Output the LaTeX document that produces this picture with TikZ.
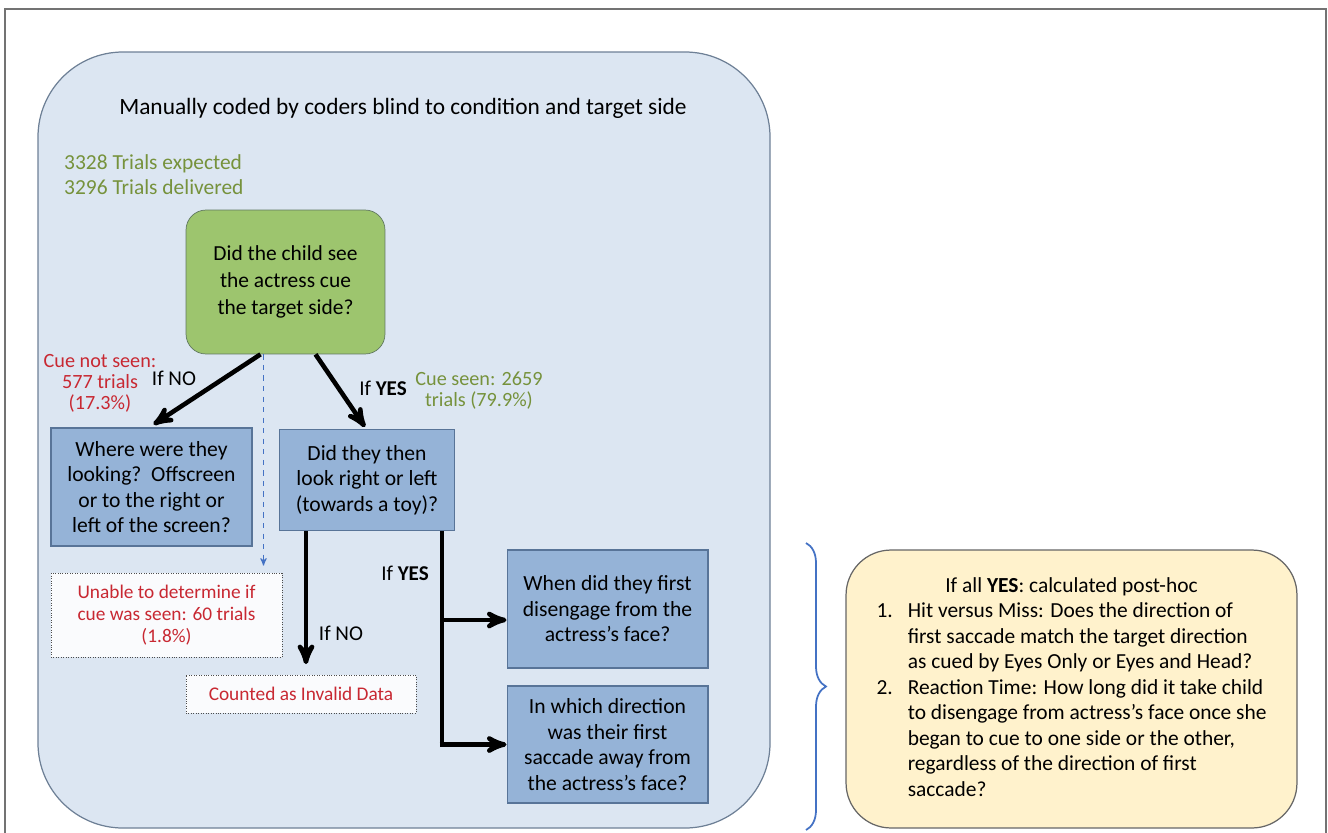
\documentclass[tikz,border=0pt]{standalone}
\usepackage{fontspec}
\setmainfont{Carlito}
\usepackage{xcolor}
\usetikzlibrary{shapes}
\usetikzlibrary{arrows}
\usetikzlibrary{calc}
\usetikzlibrary{decorations.pathreplacing}
\definecolor{panelblue}{RGB}{220,230,242}
\definecolor{panelline}{RGB}{110,128,150}
\definecolor{startgreen}{RGB}{157,197,110}
\definecolor{startline}{RGB}{96,120,96}
\definecolor{qblue}{RGB}{149,179,215}
\definecolor{qline}{RGB}{88,116,152}
\definecolor{cuered}{RGB}{200,40,50}
\definecolor{trialgreen}{RGB}{118,146,60}
\definecolor{notefill}{RGB}{250,251,253}
\definecolor{posthocfill}{RGB}{255,242,204}
\definecolor{bracecol}{RGB}{68,114,196}
\newcommand\fsz[2]{\fontsize{#1}{#2}\selectfont}
\tikzset{
	panel/.style={draw=panelline,fill=panelblue,line width=0.7pt,rounded corners=1.7cm},
	start node/.style={draw=startline,fill=startgreen,rounded corners=0.4cm,align=center,
		font=\fsz{12.2}{15.3},minimum width=3.98cm,minimum height=2.88cm},
	question node/.style={draw=qline,fill=qblue,line width=0.6pt,align=center,font=\fsz{12.3}{14.5}},
	note node/.style={draw=black!70,densely dotted,fill=notefill,align=center,text=cuered,
		font=\fsz{11}{12.5}},
	posthoc node/.style={draw=black!60,fill=posthocfill,line width=0.7pt,rounded corners=0.9cm,
		font=\fsz{12.2}{14.5},minimum width=9.02cm,minimum height=5.56cm},
	tag/.style={font=\fsz{12}{14}},
	count/.style={align=center,font=\fsz{11.5}{12}},
	flow/.style={->,line width=2.6pt},
	brace/.style={decorate,decoration={brace,amplitude=0.4cm},draw=bracecol,line width=1pt}
}

\begin{document}
\begin{tikzpicture}[x=0.02cm,y=-0.02cm,>=stealth']
\useasboundingbox (0,0) rectangle (1328,832);
\draw[black!55,line width=0.8pt] (5,840) -- (5,9) -- (1326,9) -- (1326,840);

% coding panel
\draw[panel] (38,52) rectangle (770,828);
\node[tag,font=\fsz{13.3}{15}] (title) at (403,108) {Manually coded by coders blind to condition and target side};
\node[anchor=west,align=left,text=trialgreen,font=\fsz{12.2}{14.2}] (trials) at (58,175)
	{3328 Trials expected\\3296 Trials delivered};

% questions
\node[start node] (cue) at (285.5,282) {Did the child see\\the actress cue\\the target side?};
\node[question node,minimum width=4.02cm,minimum height=2.36cm] (where) at (151.5,487)
	{Where were they\\looking?\ \ Offscreen\\or to the right or\\left of the screen?};
\node[question node,minimum width=3.5cm,minimum height=2.02cm] (look) at (367,480)
	{Did they then\\look right or left\\(towards a toy)?};
\node[question node,minimum width=4.02cm,minimum height=2.36cm] (disengage) at (607.5,609)
	{When did they first\\disengage from the\\actress's face?};
\node[question node,minimum width=4.02cm,minimum height=2.34cm] (direction) at (607.5,744.5)
	{In which direction\\was their first\\saccade away from\\the actress's face?};

% dropped trials
\node[note node,minimum width=4.62cm,minimum height=1.68cm] (unsure) at (166.5,615)
	{Unable to determine if\\cue was seen: 60 trials\\(1.8\%)};
\node[note node,minimum width=4.6cm,minimum height=0.76cm] (invalid) at (301,694)
	{Counted as Invalid Data};

% counts and branch labels
\node[count,text=cuered] (cuemiss) at (100,383) {Cue not seen:\\577 trials\\(17.3\%)};
\node[count,text=trialgreen] (cuehit) at (479,391) {Cue seen: 2659\\trials (79.9\%)};
\node[tag] (no1) at (174,378) {If NO};
\node[tag] (yes1) at (383,388) {If \textbf{YES}};
\node[tag] (yes2) at (405,573) {If \textbf{YES}};
\node[tag] (no2) at (341,633) {If NO};

% connectors
\draw[flow] ($(cue.south)+(-25,0)$) -- ($(where.north)+(2,-3)$);
\draw[flow] ($(cue.south)+(30,0)$) -- ($(look.north)+(-2,-2)$);
\coordinate (dashtop) at ($(cue.south)+(-22,0)$);
\draw[->,bracecol,dashed,line width=0.6pt,shorten >=4pt] (dashtop) -- (dashtop |- unsure.north);
\coordinate (notop) at ($(look.south west)+(27,0)$);
\draw[flow,shorten >=6pt] (notop) -- (notop |- invalid.north);
\coordinate (yestop) at ($(look.south east)+(-13,0)$);
\draw[line width=2.6pt] (yestop) -- (yestop |- direction.west);
\draw[flow] ($(yestop |- disengage.west)+(0,11)$) -- ($(disengage.west)+(0,11)$);
\draw[flow] ([xshift=-1.3pt]yestop |- direction.west) -- (direction.west);

% post-hoc measures
\coordinate (bracetop) at (806,543);
\coordinate (bracebot) at (806,830);
\draw[brace] (bracetop) -- (bracebot);
\node[posthoc node] (posthoc) at (1071.5,689) {%
	\begin{tabular}{@{}r@{\hspace{0.3cm}}l@{}}
	\multicolumn{2}{c}{If all \textbf{YES}: calculated post-hoc}\\
	1. & Hit versus Miss: Does the direction of\\
	   & first saccade match the target direction\\
	   & as cued by Eyes Only or Eyes and Head?\\
	2. & Reaction Time: How long did it take child\\
	   & to disengage from actress's face once she\\
	   & began to cue to one side or the other,\\
	   & regardless of the direction of first\\
	   & saccade?
	\end{tabular}};
\end{tikzpicture}
\end{document}
